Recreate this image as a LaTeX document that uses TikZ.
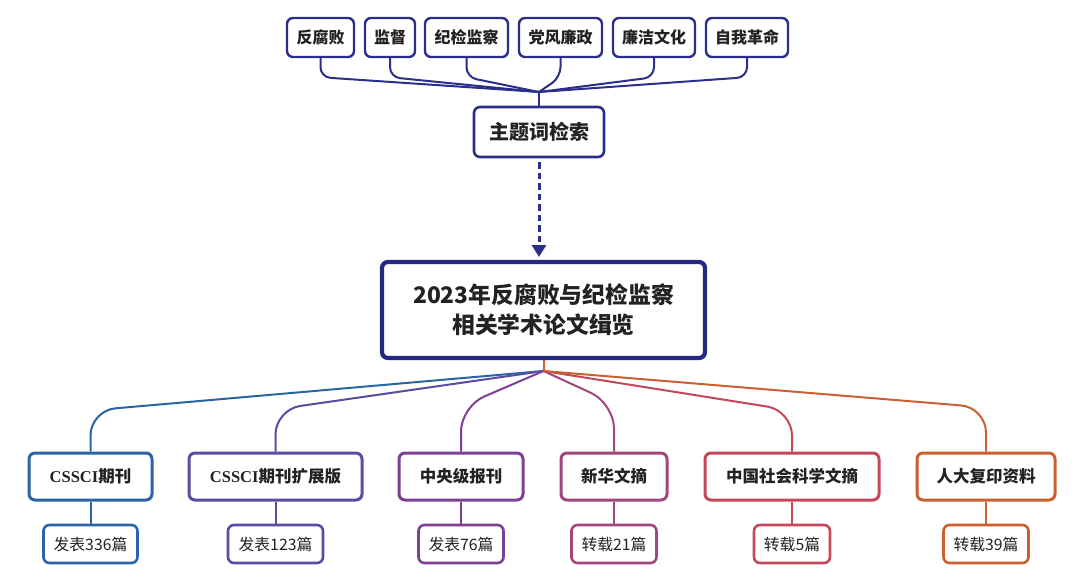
\documentclass[tikz,border=0pt]{standalone}
\usepackage{fontspec}
\setmainfont{Noto Sans CJK SC}
\newfontfamily\serifb{Liberation Serif}
\usetikzlibrary{arrows.meta}
\definecolor{navy}{HTML}{2B2F8A}
\definecolor{navyd}{HTML}{24287E}
\definecolor{txt}{HTML}{222222}
\definecolor{cA}{HTML}{2B64A5}
\definecolor{cB}{HTML}{5B4BA3}
\definecolor{cC}{HTML}{7B3F95}
\definecolor{cD}{HTML}{A0457E}
\definecolor{cE}{HTML}{C4475A}
\definecolor{cF}{HTML}{C9602F}
\begin{document}
\begin{tikzpicture}[x=1pt,y=-1pt,
  box/.style={draw, rounded corners=6pt, fill=white, inner sep=0pt, align=center, text=txt},
  topbox/.style={box, draw=navy, line width=2.4pt, minimum height=39pt, font=\bfseries\fontsize{16}{19}\selectfont},
  kwbox/.style={box, draw=navy, line width=2.6pt, minimum width=130pt, minimum height=50pt, font=\bfseries\fontsize{20}{23}\selectfont},
  mainbox/.style={box, draw=navyd, line width=4.2pt, minimum width=323pt, minimum height=96pt, font=\bfseries\fontsize{22.8}{30}\selectfont},
  lvA/.style={box, line width=3pt, minimum height=47pt, font=\bfseries\fontsize{16.5}{20}\selectfont},
  lvB/.style={box, line width=2.6pt, minimum height=38pt, font=\fontsize{15.8}{18}\selectfont},
  tline/.style={draw=navy, line width=2pt, rounded corners=10pt},
  bline/.style={line width=2pt, rounded corners=25pt},
  darrow/.style={draw=navy, line width=3pt, dash pattern=on 6.5pt off 4pt, -{Triangle[width=14pt,length=12pt]}}
]
\useasboundingbox (0,0) rectangle (1080,579);

% top keywords
\node[topbox, minimum width=67pt] (t1) at (320.5,37.5) {反腐败};
\node[topbox, minimum width=50pt] (t2) at (390,37.5) {监督};
\node[topbox, minimum width=83pt] (t3) at (466.5,37.5) {纪检监察};
\node[topbox, minimum width=83pt] (t4) at (560.5,37.5) {党风廉政};
\node[topbox, minimum width=82pt] (t5) at (654,37.5) {廉洁文化};
\node[topbox, minimum width=82pt] (t6) at (747,37.5) {自我革命};

\node[kwbox] (kw) at (539,132) {主题词检索};
\coordinate (jn) at (539,92);

\foreach \n in {t1,t2,t3,t4,t5,t6}{
  \draw[tline] (\n.south) -- ++(0,19) -- (jn);
}
\draw[draw=navy, line width=2pt] (jn) -- (kw.north);

\node[mainbox] (main) at (543.5,310) {2023年反腐败与纪检监察\\相关学术论文缉览};
\coordinate (atip) at (539,257);
\draw[darrow] ([yshift=-4pt]kw.south) -- (atip);

% level 1
\node[lvA, draw=cA, minimum width=123pt] (a1) at (90.5,476.5) {{\serifb\bfseries CSSCI}期刊};
\node[lvA, draw=cB, minimum width=173pt] (a2) at (275.5,476.5) {{\serifb\bfseries CSSCI}期刊扩展版};
\node[lvA, draw=cC, minimum width=124pt] (a3) at (461,476.5) {中央级报刊};
\node[lvA, draw=cD, minimum width=106pt] (a4) at (614,476.5) {新华文摘};
\node[lvA, draw=cE, minimum width=174pt] (a5) at (792,476.5) {中国社会科学文摘};
\node[lvA, draw=cF, minimum width=138pt] (a6) at (986,476.5) {人大复印资料};

% level 2
\node[lvB, draw=cA, minimum width=94pt] (b1) at (90.5,544) {发表336篇};
\node[lvB, draw=cB, minimum width=95pt] (b2) at (275.5,544) {发表123篇};
\node[lvB, draw=cC, minimum width=85pt] (b3) at (461,544) {发表76篇};
\node[lvB, draw=cD, minimum width=85pt] (b4) at (614,544) {转载21篇};
\node[lvB, draw=cE, minimum width=76pt] (b5) at (792,544) {转载5篇};
\node[lvB, draw=cF, minimum width=85pt] (b6) at (986,544) {转载39篇};

\coordinate (org) at (543.5,371);
\draw[cF, line width=2pt] (main.south) -- (org);

\draw[bline, draw=cA] (org) -- ([yshift=41pt]a1.north) -- (a1.north);
\draw[bline, draw=cB] (org) -- ([yshift=42pt]a2.north) -- (a2.north);
\draw[bline, draw=cC] (org) -- ([yshift=45pt]a3.north) -- (a3.north);
\draw[bline, draw=cD] (org) -- ([yshift=48pt]a4.north) -- (a4.north);
\draw[bline, draw=cE] (org) -- ([yshift=41pt]a5.north) -- (a5.north);
\draw[bline, draw=cF] (org) -- ([yshift=44pt]a6.north) -- (a6.north);

\foreach \i in {1,...,6}{
  \draw[line width=2pt, draw=c\ifcase\i\or A\or B\or C\or D\or E\or F\fi] (a\i.south) -- (b\i.north);
}
\end{tikzpicture}
\end{document}
